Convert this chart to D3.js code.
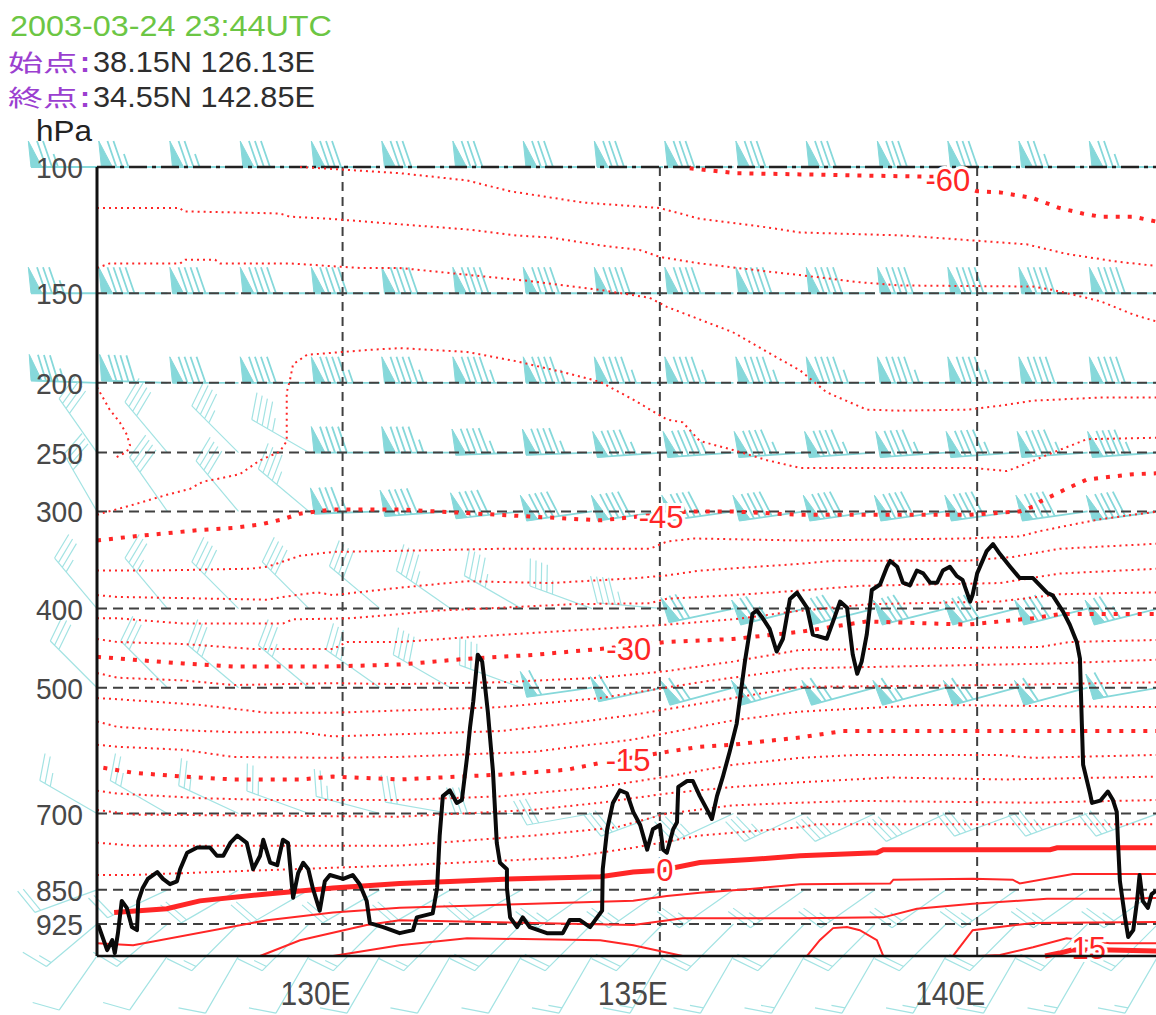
<!DOCTYPE html>
<html>
<head>
<meta charset="utf-8">
<script src="https://cdn.jsdelivr.net/npm/d3@7"></script>
<style>
  body { margin: 0; background: #fff; }
  svg { display: block; }
</style>
</head>
<body>
<svg id="chart" width="1156" height="1015"></svg>
<script>
// ---------------- data ----------------
const titleText = "2003-03-24 23:44UTC";
const startLabel = "始点";
const endLabel = "終点";
const startPoint = { lat: 38.15, lon: 126.13, text: "38.15N 126.13E" };
const endPoint = { lat: 34.55, lon: 142.85, text: "34.55N 142.85E" };

const pressureTicks = [100, 150, 200, 250, 300, 400, 500, 700, 850, 925];
const lonTicks = [130, 135, 140];
const lonTickLabels = ["130E", "135E", "140E"];

// isotherms: vertices as [longitude, hPa]
const isoM60 = [[135.47,100.4],[136.21,102.0],[137.21,102.4],[139.34,103.2],[140.00,108.1],[140.36,108.5],[140.88,110.5],[141.30,114.1],[141.66,116.1],[141.94,117.3],[142.46,117.3],[142.85,119.3]];
const isoM57 = [[129.33,100.0],[130.90,102.0],[131.96,104.4],[132.64,108.1],[133.79,112.1],[135.00,114.1],[135.63,118.1],[136.69,121.4],[137.21,123.4],[138.83,124.6],[139.93,126.6],[140.78,128.2],[141.41,132.2],[142.20,135.5],[142.85,137.5]];
const isoM54 = [[126.13,114.1],[127.44,114.1],[127.49,115.3],[129.01,116.1],[129.17,117.3],[129.80,118.1],[130.90,120.2],[131.96,122.2],[132.75,124.6],[133.27,125.4],[134.06,128.6],[134.69,130.6],[135.00,133.5],[135.63,136.3],[136.58,139.5],[137.21,141.5],[138.15,144.8],[138.78,146.3],[140.88,146.8],[141.19,148.4],[141.57,151.1],[141.94,153.9],[142.46,160.6],[142.85,164.5]];
const isoM51 = [[126.13,138.3],[126.33,136.3],[127.44,136.3],[127.52,134.7],[127.99,134.7],[128.07,136.3],[129.17,136.3],[130.27,138.3],[130.90,138.3],[133.00,144.4],[134.06,148.4],[134.84,152.2],[135.11,156.7],[136.15,170.0],[136.69,181.1],[137.21,192.2],[137.63,206.2],[138.26,218.0],[138.78,218.7],[139.84,218.0],[140.36,215.3],[140.88,211.8],[141.94,209.7],[142.85,209.7]];
const isoM48 = [[126.13,303.0],[126.70,293.9],[127.23,285.1],[127.60,279.8],[127.80,273.7],[128.07,271.0],[128.38,267.5],[128.70,256.1],[129.01,249.3],[129.12,241.0],[129.12,206.2],[129.17,198.4],[129.22,188.4],[129.44,182.8],[130.38,180.0],[130.90,178.9],[131.96,181.1],[132.75,186.7],[133.54,193.9],[134.06,199.4],[134.58,211.1],[135.11,225.0],[135.36,227.1],[135.63,241.0],[136.15,247.9],[136.69,256.1],[137.21,262.3],[139.93,262.3],[140.47,264.9],[140.78,258.8],[141.19,250.0],[141.41,245.8],[141.73,239.6],[142.85,238.5]];
const isoM48w = [[126.13,202.8],[126.33,218.0],[126.49,227.1],[126.60,236.1],[126.65,244.4],[126.60,249.3],[126.41,254.4]];
const isoM45 = [[126.13,327.5],[126.70,323.5],[127.23,320.4],[127.75,317.3],[128.27,315.3],[128.70,312.2],[129.06,307.1],[129.33,302.0],[129.85,298.2],[130.90,298.2],[132.48,303.1],[134.06,308.2],[135.47,300.0],[136.15,300.0],[137.21,303.1],[139.84,303.1],[140.67,300.0],[140.88,295.6],[140.99,291.2],[141.41,279.8],[141.73,271.9],[142.46,267.5],[142.85,266.7]];
const isoM42 = [[126.13,358.1],[126.97,358.1],[128.54,356.1],[128.81,354.1],[129.33,342.8],[129.85,338.8],[130.90,337.7],[132.48,335.7],[134.84,335.7],[135.11,328.6],[135.52,325.5],[137.21,327.5],[139.84,325.5],[140.67,323.5],[140.99,318.4],[141.41,313.3],[141.94,307.1],[142.85,300.0]];
const isoM39 = [[126.13,384.7],[126.45,386.7],[128.81,389.8],[129.06,386.7],[129.60,381.6],[129.85,384.7],[130.90,376.5],[131.96,369.4],[133.27,371.4],[134.58,366.3],[135.11,363.2],[135.63,358.1],[137.21,351.0],[137.73,347.9],[139.84,347.9],[140.56,343.9],[141.30,335.7],[142.85,330.6]];
const isoM36 = [[126.13,411.3],[126.45,411.3],[127.49,417.5],[129.06,417.5],[129.22,412.5],[130.12,411.3],[130.90,406.3],[131.42,402.5],[132.21,400.0],[133.63,394.9],[134.84,393.9],[135.11,388.8],[136.15,384.7],[137.21,379.6],[138.15,374.5],[140.36,371.4],[141.30,361.2],[142.85,356.1]];
const isoM33 = [[126.13,436.3],[126.45,440.0],[127.49,442.5],[128.59,448.8],[129.85,448.8],[130.07,440.0],[130.90,440.0],[132.48,431.3],[134.06,423.8],[135.11,418.8],[136.15,412.5],[137.21,402.5],[138.31,394.9],[140.36,391.8],[141.30,383.7],[142.85,381.6]];
const isoM30 = [[126.13,458.8],[126.70,462.5],[127.49,467.5],[128.27,471.3],[129.85,471.3],[130.90,468.8],[131.96,461.3],[133.00,456.3],[134.06,448.8],[135.11,440.0],[136.15,436.3],[137.21,427.5],[138.26,415.0],[139.84,418.8],[140.88,411.3],[141.30,406.3],[142.85,406.3]];
const isoM27 = [[126.13,480.0],[126.45,486.3],[127.49,490.0],[128.27,496.3],[129.85,493.8],[130.90,495.0],[132.48,492.5],[134.06,486.3],[135.11,477.5],[136.15,465.0],[137.21,450.0],[140.99,446.3],[141.46,440.0],[142.85,437.5]];
const isoM24 = [[126.13,514.5],[126.45,516.1],[127.75,524.2],[128.81,535.5],[129.85,535.5],[130.90,532.3],[132.48,527.4],[134.06,514.5],[135.63,492.5],[137.21,473.8],[141.15,467.5],[142.85,462.5]];
const isoM21 = [[126.13,548.4],[126.45,556.5],[126.97,559.7],[128.27,564.5],[129.33,564.5],[129.85,571.0],[130.90,567.7],[132.48,562.9],[133.54,551.6],[134.58,538.7],[136.15,514.5],[137.21,498.8],[140.36,496.3],[142.85,492.5]];
const isoM18 = [[126.13,583.9],[126.45,587.1],[127.49,591.9],[128.27,603.2],[129.85,604.8],[130.90,603.2],[133.00,595.2],[134.58,575.8],[136.15,546.8],[137.21,533.9],[139.21,524.2],[142.85,527.4]];
const isoM15 = [[126.23,621.0],[126.70,629.1],[127.49,635.6],[128.27,640.4],[129.33,640.4],[129.85,635.6],[130.90,640.4],[132.48,632.3],[133.54,624.2],[134.06,612.9],[135.11,595.2],[135.63,587.1],[136.15,583.9],[137.21,572.6],[137.89,562.9],[139.84,562.9],[142.85,562.9]];
const isoM12 = [[126.13,659.7],[126.45,664.5],[126.97,667.7],[127.75,672.6],[128.81,675.8],[130.90,675.8],[132.48,669.4],[134.06,653.2],[135.11,635.6],[136.15,616.1],[137.21,604.8],[138.11,600.0],[140.36,600.0],[140.88,604.8],[142.85,600.0]];
const isoM9 = [[126.13,693.5],[126.70,702.0],[130.90,705.8],[133.00,693.5],[134.06,680.6],[135.11,664.5],[136.15,653.2],[137.21,645.2],[138.63,637.1],[140.47,640.4],[142.85,635.6]];
const isoM6 = [[126.13,754.5],[126.70,760.4],[130.90,760.4],[133.00,740.9],[134.32,725.3],[135.11,700.0],[136.15,685.5],[137.21,680.6],[138.11,677.4],[140.88,680.6],[142.85,675.8]];
const isoM3 = [[126.13,818.8],[126.70,818.8],[130.90,799.3],[133.54,783.8],[134.58,764.3],[135.63,740.9],[137.21,725.3],[137.48,719.5],[142.85,719.5]];
const iso0 = [[126.40,899.3],[127.23,890.7],[127.75,873.6],[128.81,858.6],[129.85,846.1],[130.90,836.4],[131.69,832.5],[132.75,826.6],[134.06,822.7],[134.58,813.0],[135.03,809.1],[135.63,793.5],[136.42,787.7],[137.21,779.9],[138.42,774.0],[138.52,768.2],[141.15,768.2],[141.26,764.3],[142.85,764.3]];
const iso3 = [[126.13,969.5],[126.70,974.2],[128.81,916.4],[129.85,899.3],[130.90,888.6],[134.58,873.6],[135.11,862.9],[135.63,856.4],[136.42,848.1],[137.21,838.3],[138.63,836.4],[138.68,828.6],[139.93,826.6],[140.56,828.6],[140.67,836.4],[141.51,817.1],[142.85,817.1]];
const iso6 = [[128.70,1000],[129.33,962.5],[130.38,927.3],[130.90,916.4],[134.58,927.3],[135.36,912.1],[137.21,912.1],[138.52,910.0],[139.05,890.7],[139.93,880.0],[141.10,869.3],[142.20,869.3],[142.85,867.1]];
const iso9w = [[129.85,1000],[130.90,974.2],[131.96,957.8],[134.06,962.5],[134.58,974.2],[135.36,1000]];
const iso9m = [[137.32,1000],[137.52,962.5],[137.73,934.4],[137.95,932.0],[138.15,939.1],[138.42,962.5],[138.52,1000]];
const iso9e = [[139.62,1000],[139.93,939.1],[140.88,922.9],[142.85,920.7]];
const iso12 = [[140.04,1000],[140.36,997.7],[140.88,978.9],[141.41,957.8],[142.09,969.5],[142.85,969.5]];
const iso15 = [[141.07,1000],[141.30,993.0],[141.49,985.9],[142.09,985.9],[142.85,988.3]];

const isotherms = [
  { t: -60, pts: isoM60 }, { t: -57, pts: isoM57 }, { t: -54, pts: isoM54 },
  { t: -51, pts: isoM51 }, { t: -48, pts: isoM48 }, { t: -48, pts: isoM48w },
  { t: -45, pts: isoM45 }, { t: -42, pts: isoM42 }, { t: -39, pts: isoM39 },
  { t: -36, pts: isoM36 }, { t: -33, pts: isoM33 }, { t: -30, pts: isoM30 },
  { t: -27, pts: isoM27 }, { t: -24, pts: isoM24 }, { t: -21, pts: isoM21 },
  { t: -18, pts: isoM18 }, { t: -15, pts: isoM15 }, { t: -12, pts: isoM12 },
  { t: -9, pts: isoM9 }, { t: -6, pts: isoM6 }, { t: -3, pts: isoM3 },
  { t: 0, pts: iso0 }, { t: 3, pts: iso3 }, { t: 6, pts: iso6 },
  { t: 9, pts: iso9w }, { t: 9, pts: iso9m }, { t: 9, pts: iso9e },
  { t: 12, pts: iso12 }, { t: 15, pts: iso15 }
];

// contour labels: [temperature, longitude, hPa]
const isothermLabels = [[-60, 139.54, 104.4], [-45, 135.02, 305.1], [-30, 134.51, 448.8],
                        [-15, 134.50, 608.1], [0, 135.08, 809.1], [15, 141.76, 980.2]];

// cloud-top line: [longitude, hPa]
const cloudTop = [
  [126.15,927],[126.29,986],[126.37,962],[126.41,993],[126.46,946],[126.52,874],[126.60,889],[126.68,932],
  [126.76,939],[126.78,874],[126.85,846],[126.93,827],[127.08,813],[127.17,827],[127.28,838],[127.39,832],
  [127.44,807],[127.55,774],[127.71,764],[127.91,764],[128.02,780],[128.12,780],[128.23,755],[128.34,741],
  [128.49,755],[128.59,807],[128.70,780],[128.75,749],[128.86,794],[128.97,799],[129.06,749],[129.14,755],
  [129.22,867],[129.30,815],[129.38,794],[129.46,807],[129.53,846],[129.64,895],[129.72,832],[129.80,819],
  [130.01,827],[130.16,819],[130.27,838],[130.38,874],[130.43,923],[130.64,932],[130.90,946],[131.11,939],
  [131.17,910],[131.42,901],[131.49,846],[131.53,741],[131.58,669],[131.69,659],[131.80,681],[131.88,676],
  [131.96,605],[132.01,556],[132.06,519],[132.13,456],[132.20,465],[132.24,494],[132.29,535],[132.37,627],
  [132.43,755],[132.48,794],[132.59,807],[132.59,846],[132.64,910],[132.75,932],[132.84,910],[132.95,932],
  [133.22,946],[133.47,946],[133.58,916],[133.74,916],[133.90,932],[134.09,895],[134.10,807],[134.17,729],
  [134.26,681],[134.37,659],[134.48,664],[134.58,697],[134.69,721],[134.80,768],[134.89,729],[135.00,721],
  [135.05,768],[135.11,774],[135.21,729],[135.27,716],[135.29,653],[135.43,643],[135.52,643],[135.63,669],
  [135.74,692],[135.82,710],[135.90,669],[135.99,637],[136.10,595],[136.21,552],[136.34,465],[136.46,406],
  [136.53,402],[136.62,411],[136.73,424],[136.84,452],[136.94,436],[137.05,389],[137.16,382],[137.32,399],
  [137.41,431],[137.63,436],[137.73,415],[137.84,392],[137.95,399],[138.04,456],[138.11,481],[138.18,465],
  [138.26,431],[138.34,379],[138.47,373],[138.58,354],[138.63,348],[138.74,354],[138.83,371],[138.94,374],
  [139.05,358],[139.15,361],[139.26,371],[139.37,371],[139.46,358],[139.57,354],[139.68,364],[139.77,368],
  [139.89,392],[139.93,384],[140.00,361],[140.15,338],[140.25,331],[140.36,341],[140.52,354],[140.67,366],
  [140.88,366],[140.99,374],[141.10,382],[141.19,385],[141.35,403],[141.46,419],[141.57,440],[141.62,461],
  [141.65,552],[141.67,616],[141.78,665],[141.81,681],[141.94,677],[142.06,661],[142.14,676],[142.20,697],
  [142.22,755],[142.25,832],[142.33,910],[142.38,955],[142.46,939],[142.52,874],[142.56,819],[142.61,874],
  [142.69,889],[142.75,859],[142.82,852]
];

// wind barbs: station longitudes, levels, direction (deg) and speed (kt)
const barbLons = [126.13,127.24,128.36,129.47,130.59,131.70,132.82,133.93,135.05,136.16,137.28,138.39,139.51,140.62,141.74,142.85];
const barbLevels = [100, 150, 200, 250, 300, 400, 500, 700, 850, 925, 1000];
const windDir = [
  [270,270,270,270,270,270,270,270,270,270,270,270,270,270,270,270],
  [270,270,270,270,270,270,270,270,270,270,270,270,270,270,270,270],
  [272,272,270,270,270,270,270,270,270,270,270,270,270,270,270,270],
  [325,320,315,300,270,270,268,268,266,266,266,266,266,266,266,266],
  [330,325,320,310,268,266,264,262,262,262,262,262,262,262,262,262],
  [320,320,315,315,310,305,300,290,275,258,256,256,256,256,256,256],
  [315,315,310,310,305,300,290,262,258,255,255,255,255,255,255,260],
  [300,300,295,290,285,280,270,260,250,245,245,245,245,250,250,250],
  [250,245,240,240,240,240,240,235,235,235,235,235,235,235,235,235],
  [230,230,225,225,225,225,225,225,225,225,225,225,225,225,225,225],
  [215,215,210,210,210,210,210,210,210,210,210,210,210,210,210,210]
];
const windSpd = [
  [75,75,75,80,80,80,80,80,80,80,80,80,80,80,75,75],
  [85,90,90,90,90,90,90,90,90,90,90,90,90,90,90,90],
  [85,90,90,90,95,95,95,95,95,95,95,95,95,95,90,90],
  [40,40,45,45,90,95,95,95,95,95,95,95,95,95,95,95],
  [35,40,40,45,85,90,90,90,90,90,90,90,90,90,90,90],
  [35,35,40,40,40,45,45,45,45,70,75,80,80,80,80,75],
  [30,30,35,35,35,40,40,60,60,65,65,65,65,65,60,60],
  [25,25,25,25,25,30,30,30,35,35,35,35,35,35,35,35],
  [20,20,20,20,20,20,25,25,25,25,25,25,25,25,25,25],
  [15,15,15,15,15,15,20,20,20,20,20,20,20,20,20,20],
  [10,10,10,10,10,10,10,15,15,15,15,15,15,15,15,15]
];

// ---------------- scales ----------------
// height (km) of a pressure level in the ICAO standard atmosphere
function stdHeight(p) {
  if (p >= 226.32) return 44.3308 * (1 - Math.pow(p / 1013.25, 0.190263));
  return 11 + 6.3416 * Math.log(226.32 / p);
}
const plot = { left: 97, right: 1158, top: 167 };
const x = d3.scaleLinear().domain([startPoint.lon, endPoint.lon]).range([plot.left, plot.right]);
const hScale = d3.scaleLinear().domain([stdHeight(100), stdHeight(925)]).range([167, 924]);
const y = p => hScale(stdHeight(p));
const yBottom = y(1000);

const svg = d3.select("#chart");
const RED = "#ff2626";
const CYAN = "#86d8da";
const SANS = "'Liberation Sans', Arial, sans-serif";

// ---------------- wind barbs ----------------
function barbGeom(d) {
  const L = 66, F = 26, lean = 9, gap = 6, pw = 11;
  const x0 = x(d.lon), y0 = y(d.p);
  const a = d.dir * Math.PI / 180;
  const ux = Math.sin(a), uy = -Math.cos(a);   // toward the upwind end
  const nx = -uy, ny = ux;                      // side that carries the flags
  const tx = x0 + ux * L, ty = y0 + uy * L;
  const at = s => [tx - ux * s, ty - uy * s];
  let lines = `M${x0},${y0}L${tx},${ty}`;
  let flags = "";
  let rest = Math.round(d.spd / 5) * 5;
  let s = 0;
  while (rest >= 50) {
    const [bx, by] = at(s), [ex, ey] = at(s + pw);
    flags += `M${bx},${by}L${bx + nx * F + ux * lean * 0.3},${by + ny * F + uy * lean * 0.3}L${ex},${ey}Z`;
    s += pw + 2; rest -= 50;
  }
  if (s > 0) s += 2;
  while (rest >= 10) {
    const [bx, by] = at(s);
    lines += `M${bx},${by}L${bx + nx * F + ux * lean},${by + ny * F + uy * lean}`;
    s += gap; rest -= 10;
  }
  if (rest >= 5) {
    if (s === 0) s = gap;
    const [bx, by] = at(s);
    lines += `M${bx},${by}L${bx + nx * F / 2 + ux * lean / 2},${by + ny * F / 2 + uy * lean / 2}`;
  }
  return { lines, flags };
}

const barbData = barbLevels.flatMap((p, i) =>
  barbLons.map((lon, k) => ({ p, lon, dir: windDir[i][k], spd: windSpd[i][k] })));

const barbG = svg.append("g").attr("class", "barbs")
  .selectAll("g").data(barbData).join("g");
barbG.append("path")
  .attr("d", d => barbGeom(d).flags)
  .attr("fill", CYAN).attr("stroke", CYAN).attr("stroke-width", 1);
barbG.append("path")
  .attr("d", d => barbGeom(d).lines)
  .attr("fill", "none").attr("stroke", d => d.spd >= 50 ? CYAN : "#a3e3e3")
  .attr("stroke-width", d => d.spd >= 50 ? 1.8 : 1.2);

// ---------------- grid ----------------
const grid = svg.append("g").attr("class", "grid");
grid.selectAll("line.h").data(pressureTicks.filter(p => p !== 100)).join("line")
  .attr("class", "h")
  .attr("x1", plot.left).attr("x2", plot.right)
  .attr("y1", d => y(d)).attr("y2", d => y(d))
  .attr("stroke", "#404040").attr("stroke-width", 2).attr("stroke-dasharray", "10,6");
grid.selectAll("line.v").data(lonTicks).join("line")
  .attr("class", "v")
  .attr("x1", d => x(d)).attr("x2", d => x(d))
  .attr("y1", plot.top).attr("y2", yBottom)
  .attr("stroke", "#404040").attr("stroke-width", 2).attr("stroke-dasharray", "9,6");
grid.append("line")
  .attr("x1", plot.left).attr("x2", plot.right).attr("y1", y(100)).attr("y2", y(100))
  .attr("stroke", "#222").attr("stroke-width", 2.5).attr("stroke-dasharray", "18,5,4,5");

// ---------------- isotherms ----------------
const lineGen = d3.line().x(d => x(d[0])).y(d => y(d[1]));
function isoStyle(t) {
  if (t < 0 && t % 15 === 0) return { w: 4, dash: "4,8" };
  if (t < 0) return { w: 2, dash: "2,4" };
  if (t % 15 === 0) return { w: 5, dash: null };
  return { w: 2, dash: null };
}
svg.append("g").attr("class", "isotherms")
  .selectAll("path").data(isotherms).join("path")
  .attr("d", d => lineGen(d.pts))
  .attr("fill", "none")
  .attr("stroke", RED)
  .attr("stroke-width", d => isoStyle(d.t).w)
  .attr("stroke-dasharray", d => isoStyle(d.t).dash);

// ---------------- cloud-top line ----------------
svg.append("path")
  .attr("d", lineGen(cloudTop))
  .attr("fill", "none").attr("stroke", "#0a0a0a")
  .attr("stroke-width", 4).attr("stroke-linejoin", "round");

// ---------------- isotherm labels ----------------
svg.append("g").attr("class", "iso-labels")
  .selectAll("text").data(isothermLabels).join("text")
  .attr("x", d => x(d[1])).attr("y", d => y(d[2]) + 11)
  .attr("text-anchor", "middle")
  .attr("font-family", SANS)
  .attr("font-size", 31)
  .attr("fill", RED)
  .attr("stroke", "#fff").attr("stroke-width", 6).attr("paint-order", "stroke")
  .text(d => String(d[0]));

// ---------------- axes ----------------
svg.append("line")
  .attr("x1", plot.left).attr("x2", plot.left).attr("y1", plot.top).attr("y2", yBottom)
  .attr("stroke", "#111").attr("stroke-width", 3);
svg.append("line")
  .attr("x1", plot.left).attr("x2", plot.right).attr("y1", yBottom).attr("y2", yBottom)
  .attr("stroke", "#111").attr("stroke-width", 2.5);

// narrow digits: glyphs are squeezed to the label width
svg.append("g").selectAll("text").data(pressureTicks).join("text")
  .attr("x", 83).attr("y", d => y(d) + 11)
  .attr("text-anchor", "end")
  .attr("font-family", SANS).attr("font-size", 30)
  .attr("textLength", d => String(d).length * 15.7)
  .attr("lengthAdjust", "spacingAndGlyphs")
  .attr("fill", "#484848")
  .text(d => d);
svg.append("g").selectAll("text").data(lonTicks).join("text")
  .attr("x", d => x(d) - 62).attr("y", 1005)
  .attr("font-family", SANS).attr("font-size", 33)
  .attr("textLength", 70)
  .attr("lengthAdjust", "spacingAndGlyphs")
  .attr("fill", "#484848")
  .text((d, i) => lonTickLabels[i]);
svg.append("text")
  .attr("x", 36).attr("y", 141)
  .attr("font-family", SANS).attr("font-size", 29)
  .attr("textLength", 56).attr("lengthAdjust", "spacingAndGlyphs")
  .attr("fill", "#222").text("hPa");

// ---------------- header ----------------
const head = svg.append("g").attr("font-family", SANS).attr("font-size", 30);
head.append("text").attr("x", 10).attr("y", 36)
  .attr("textLength", 322).attr("lengthAdjust", "spacingAndGlyphs")
  .attr("fill", "#6cc644").text(titleText);
[[startLabel, startPoint.text, 72], [endLabel, endPoint.text, 107]].forEach(([lab, txt, by]) => {
  head.append("text").attr("x", 8).attr("y", by - 1)
    .attr("font-family", "'Noto Sans CJK JP', sans-serif").attr("font-size", 23)
    .attr("textLength", 70).attr("lengthAdjust", "spacingAndGlyphs")
    .attr("fill", "#9b3fd0").text(lab);
  head.append("text").attr("x", 80).attr("y", by)
    .attr("fill", "#9b3fd0").attr("font-weight", "bold").text(":");
  head.append("text").attr("x", 93).attr("y", by)
    .attr("textLength", 222).attr("lengthAdjust", "spacingAndGlyphs")
    .attr("fill", "#2e2e2e").text(txt);
});
</script>
</body>
</html>
